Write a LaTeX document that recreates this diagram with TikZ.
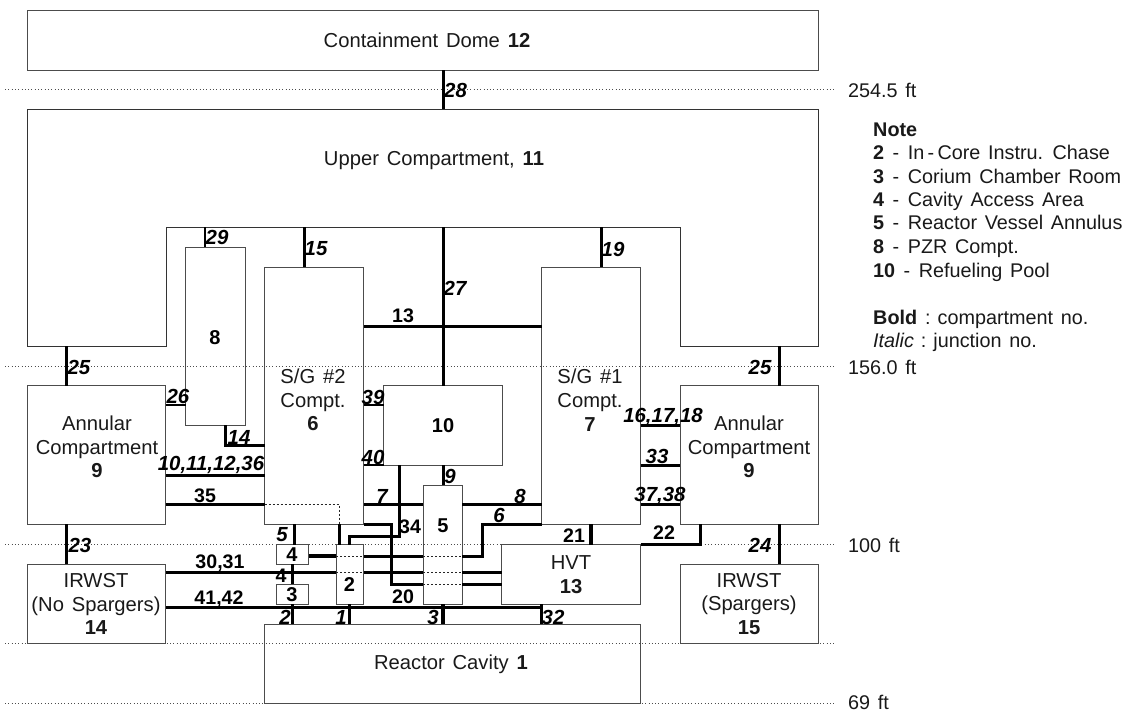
\documentclass[tikz,border=0pt]{standalone}
\usepackage{fontspec}
\setmainfont[WordSpace=1.4]{Liberation Sans}
\newcommand{\roombox}[5]{%
  \pgfmathsetmacro\rw{#4-#2}\pgfmathsetmacro\rh{#5-#3}%
  \node[room,minimum width=\rw pt,minimum height=\rh pt] (#1) at ({(#2+#4)/2},{(#3+#5)/2}) {};}
\newcommand{\ntline}[2]{\textbf{#1}\hspace{8.5pt}-\hspace{8.5pt}#2}
\tikzset{
  room/.style={draw=black!70,line width=1pt,inner sep=0pt,outer sep=0pt,rectangle},
  jn/.style={draw=black,line width=3pt,line join=miter},
  jnthin/.style={draw=black,line width=2.2pt},
  jnfat/.style={draw=black,line width=4pt},
  level/.style={draw=black!70,line width=1pt,dash pattern=on 1pt off 2.3pt},
  hidden/.style={draw=black!85,line width=.8pt,dash pattern=on 2pt off 2pt},
  txt/.style={font=\fontsize{20.2}{23.7}\selectfont,align=center,inner sep=0pt,text=black!90},
  num/.style={font=\fontsize{20}{24}\selectfont\bfseries,inner sep=0pt},
  jl/.style={font=\fontsize{20.4}{24}\selectfont\bfseries\itshape,inner sep=0pt},
  jb/.style={font=\fontsize{19.6}{24}\selectfont\bfseries,inner sep=0pt},
  note/.style={font=\fontsize{19.8}{24}\selectfont,anchor=base west,inner sep=0pt,text=black!90},
}
\begin{document}
\begin{tikzpicture}[x=1pt,y=-1pt]
\useasboundingbox (0,0) rectangle (1131,712);
% level lines
\coordinate (lvlAl) at (5,89);   \coordinate (lvlAr) at (835,89);
\coordinate (lvlBl) at (5,366);  \coordinate (lvlBr) at (835,366);
\coordinate (lvlCl) at (5,544.5);\coordinate (lvlCr) at (835,544.5);
\coordinate (lvlDl) at (5,643.5);\coordinate (lvlDr) at (835,643.5);
\coordinate (lvlEl) at (5,703.5);\coordinate (lvlEr) at (835,703.5);
\draw[level] (lvlAl) -- (lvlAr);
\draw[level] (lvlBl) -- (lvlBr);
\draw[level] (lvlCl) -- (lvlCr);
\draw[level] (lvlDl) -- (lvlDr);
\draw[level] (lvlEl) -- (lvlEr);
% rooms
\roombox{dome}{27}{10}{818}{70}
\roombox{pzr}{185.5}{247}{245}{425}
\roombox{sgtwo}{264.5}{267}{363.5}{524}
\roombox{sgone}{541.5}{267}{640.5}{524}
\roombox{annL}{27}{385.5}{165.5}{524}
\roombox{annR}{680}{385.5}{818.5}{524}
\roombox{pool}{383.5}{385.5}{502}{465}
\roombox{rva}{423}{485}{462}{604}
\roombox{chase}{336}{544.5}{363.5}{604}
\roombox{access}{276.5}{544.5}{308.5}{564}
\roombox{corium}{276.5}{584}{308.5}{604}
\roombox{hvt}{501.5}{544.5}{640.5}{604}
\roombox{irwL}{27}{564}{165.5}{643.5}
\roombox{irwR}{680}{564}{818.5}{643.5}
\roombox{cavity}{264.5}{624}{640.5}{703.5}
% upper compartment outline
\coordinate (uA) at (27,109);  \coordinate (uB) at (818.5,109);
\coordinate (uC) at (818.5,346); \coordinate (uD) at (680,346);
\coordinate (uE) at (680,227); \coordinate (uF) at (166,227);
\coordinate (uG) at (166,346); \coordinate (uH) at (27,346);
\draw[draw=black!80,line width=1pt] (uA) -- (uB) -- (uC) -- (uD) -- (uE) -- (uF) -- (uG) -- (uH) -- cycle;
% vertical junctions
\draw[jn] (443,0 |- dome.south) -- (443,0 |- uA);
\draw[jn] (443,0 |- uF) -- (443,0 |- pool.north);
\draw[jnthin] (205,0 |- uF) -- (205,0 |- pzr.north);
\draw[jn] (304,0 |- uF) -- (304,0 |- sgtwo.north);
\draw[jn] (601,0 |- uF) -- (601,0 |- sgone.north);
\draw[jn] (66,0 |- uH) -- (66,0 |- annL.north);
\draw[jn] (779,0 |- uC) -- (779,0 |- annR.north);
\draw[jn] (66,0 |- annL.south) -- (66,0 |- irwL.north);
\draw[jn] (779,0 |- annR.south) -- (779,0 |- irwR.north);
\draw[jn] (443,0 |- pool.south) -- (443,0 |- rva.north);
\draw[jn] (294,0 |- sgtwo.south) -- (294,0 |- access.north);
\draw[jn] (292,0 |- access.south) -- (292,0 |- corium.north);
\draw[jn] (292,0 |- corium.south) -- (292,0 |- cavity.north);
\draw[jn] (349.5,0 |- chase.south) -- (349.5,0 |- cavity.north);
\draw[jnfat] (443,0 |- rva.south) -- (443,0 |- cavity.north);
\draw[jn] (541.5,0 |- hvt.south) -- (541.5,0 |- cavity.north);
\draw[jnfat] (591,0 |- sgone.south) -- (591,0 |- hvt.north);
% horizontal junctions
\draw[jn] (sgtwo.east |- 0,326) -- (sgone.west |- 0,326);
\draw[jnthin] (annL.east |- 0,405) -- (pzr.west |- 0,405);
\draw[jn] (225,0 |- pzr.south) -- (225,445) -- (sgtwo.west |- 0,445);
\draw[jn] (annL.east |- 0,475) -- (sgtwo.west |- 0,475);
\draw[jn] (annL.east |- 0,504.5) -- (sgtwo.west |- 0,504.5);
\draw[hidden] (sgtwo.west |- 0,504.5) -- (339.5,504.5) -- (339.5,0 |- sgtwo.south);
\draw[jn] (339.5,0 |- sgtwo.south) -- (339.5,0 |- chase.north);
\draw[jnthin] (sgtwo.east |- 0,405) -- (pool.west |- 0,405);
\draw[jnthin] (sgtwo.east |- 0,465) -- (pool.west |- 0,465);
\draw[jn] (sgtwo.east |- 0,504.5) -- (rva.west |- 0,504.5);
\draw[jn] (rva.east |- 0,504.5) -- (sgone.west |- 0,504.5);
\draw[jn] (399,0 |- pool.south) -- (399,536) -- (349.5,536) -- (349.5,0 |- chase.north);
% junction 6
\draw[jnfat] (access.east |- 0,556) -- (chase.west |- 0,556);
\draw[hidden] (chase.west |- 0,556) -- (chase.east |- 0,556);
\draw[jn] (chase.east |- 0,556) -- (rva.west |- 0,556);
\draw[hidden] (rva.west |- 0,556) -- (rva.east |- 0,556);
\draw[jn] (rva.east |- 0,556) -- (482,556) -- (482,524) -- (sgone.west |- 0,524);
% junction 20
\draw[jn] (sgtwo.east |- 0,524) -- (391,524) -- (391,584) -- (rva.west |- 0,584);
\draw[hidden] (rva.west |- 0,584) -- (rva.east |- 0,584);
\draw[jn] (rva.east |- 0,584) -- (hvt.west |- 0,584);
% junctions 30,31
\draw[jn] (irwL.east |- 0,572.5) -- (chase.west |- 0,572.5);
\draw[hidden] (chase.west |- 0,572.5) -- (chase.east |- 0,572.5);
\draw[jn] (chase.east |- 0,572.5) -- (rva.west |- 0,572.5);
\draw[hidden] (rva.west |- 0,572.5) -- (rva.east |- 0,572.5);
\draw[jn] (rva.east |- 0,572.5) -- (hvt.west |- 0,572.5);
% junctions 41,42
\draw[jn] (irwL.east |- 0,607.5) -- (541.5,607.5);
% right side
\draw[jn] (sgone.east |- 0,425) -- (annR.west |- 0,425);
\draw[jn] (sgone.east |- 0,465) -- (annR.west |- 0,465);
\draw[jn] (sgone.east |- 0,504.5) -- (annR.west |- 0,504.5);
\draw[jn] (hvt.east |- 0,544.5) -- (700,544.5) -- (700,0 |- annR.south);
% room text
\node[txt] (tDome) at (427,40) {Containment Dome \textbf{12}};
\node[txt] (tUpper) at (434,161) {Upper Compartment, \textbf{11}};
\node[num] (tPzr) at (215,338) {8};
\node[txt] (tSg2) at (313,400) {S/G \#2\\Compt.\\\textbf{6}};
\node[txt] (tSg1) at (590,400) {S/G \#1\\Compt.\\\textbf{7}};
\node[txt] (tAnnL) at (97,447) {Annular\\Compartment\\\textbf{9}};
\node[txt] (tAnnR) at (749,447) {Annular\\Compartment\\\textbf{9}};
\node[num] (tPool) at (443,426) {10};
\node[num] (tRva) at (443,526) {5};
\node[num] (tChase) at (349.5,585) {2};
\node[num] (tAccess) at (292,555) {4};
\node[num] (tCorium) at (292,595) {3};
\node[txt] (tHvt) at (571,575) {HVT\\\textbf{13}};
\node[txt] (tIrwL) at (96,604) {IRWST\\(No Spargers)\\\textbf{14}};
\node[txt] (tIrwR) at (749,604) {IRWST\\(Spargers)\\\textbf{15}};
\node[txt] (tCav) at (451,664) {Reactor Cavity \textbf{1}};
% junction labels italic
\node[jl] (j28) at (455.5,90) {28};
\node[jl] (j27) at (455,288) {27};
\node[jl] (j29) at (217,237) {29};
\node[jl] (j15) at (316,249) {15};
\node[jl] (j19) at (613,249) {19};
\node[jl] (j25a) at (79,367) {25};
\node[jl] (j25b) at (760,367) {25};
\node[jl] (j26) at (178,396) {26};
\node[jl] (j14) at (239,437) {14};
\node[jl] (j1011) at (211,465) {10,11,12,36};
\node[jl] (j39) at (373,397) {39};
\node[jl] (j40) at (373,457) {40};
\node[jl] (j7) at (382,496) {7};
\node[jl] (j8) at (520,496) {8};
\node[jl] (j9) at (450,476) {9};
\node[jl] (j6) at (499,515) {6};
\node[jl] (j5) at (282,535) {5};
\node[jl] (j2) at (285,617) {2};
\node[jl] (j1) at (341,617) {1};
\node[jl] (j3) at (433,617) {3};
\node[jl] (j32) at (553,617) {32};
\node[jl] (j161718) at (663,417) {16,17,18};
\node[jl] (j33) at (657,456) {33};
\node[jl] (j3738) at (660,496) {37,38};
\node[jl] (j24) at (760,545) {24};
\node[jl] (j23) at (80,545) {23};
% junction labels upright
\node[jb] (b13) at (403,316) {13};
\node[jb] (b35) at (205,496) {35};
\node[jb] (b34) at (410,527) {34};
\node[jb] (b20) at (403,597) {20};
\node[jb] (b3031) at (220,563.5) {30,31};
\node[jb] (b4142) at (219,599) {41,42};
\node[jb] (b4) at (281,576) {4};
\node[jb] (b21) at (574,535.5) {21};
\node[jb] (b22) at (664,533) {22};
% elevations
\node[note] (e1) at (848,97) {254.5 ft};
\node[note] (e2) at (848,374) {156.0 ft};
\node[note] (e3) at (848,552) {100 ft};
\node[note] (e4) at (848,709.5) {69 ft};
% note block
\node[note] (n0) at (873,136.7) {\textbf{Note}};
\node[note] (n1) at (873,159.5) {\ntline{2}{In\,-\,Core Instru. Chase}};
\node[note] (n2) at (873,183) {\ntline{3}{Corium Chamber Room}};
\node[note] (n3) at (873,206) {\ntline{4}{Cavity Access Area}};
\node[note] (n4) at (873,229.5) {\ntline{5}{Reactor Vessel Annulus}};
\node[note] (n5) at (873,253.3) {\ntline{8}{PZR Compt.}};
\node[note] (n6) at (873,277) {\ntline{10}{Refueling Pool}};
\node[note] (n7) at (873,324) {\textbf{Bold}\hspace{8pt}:\hspace{7pt}compartment no.};
\node[note] (n8) at (873,347.5) {\textit{Italic}\hspace{7pt}:\hspace{7pt}junction no.};
\end{tikzpicture}
\end{document}
